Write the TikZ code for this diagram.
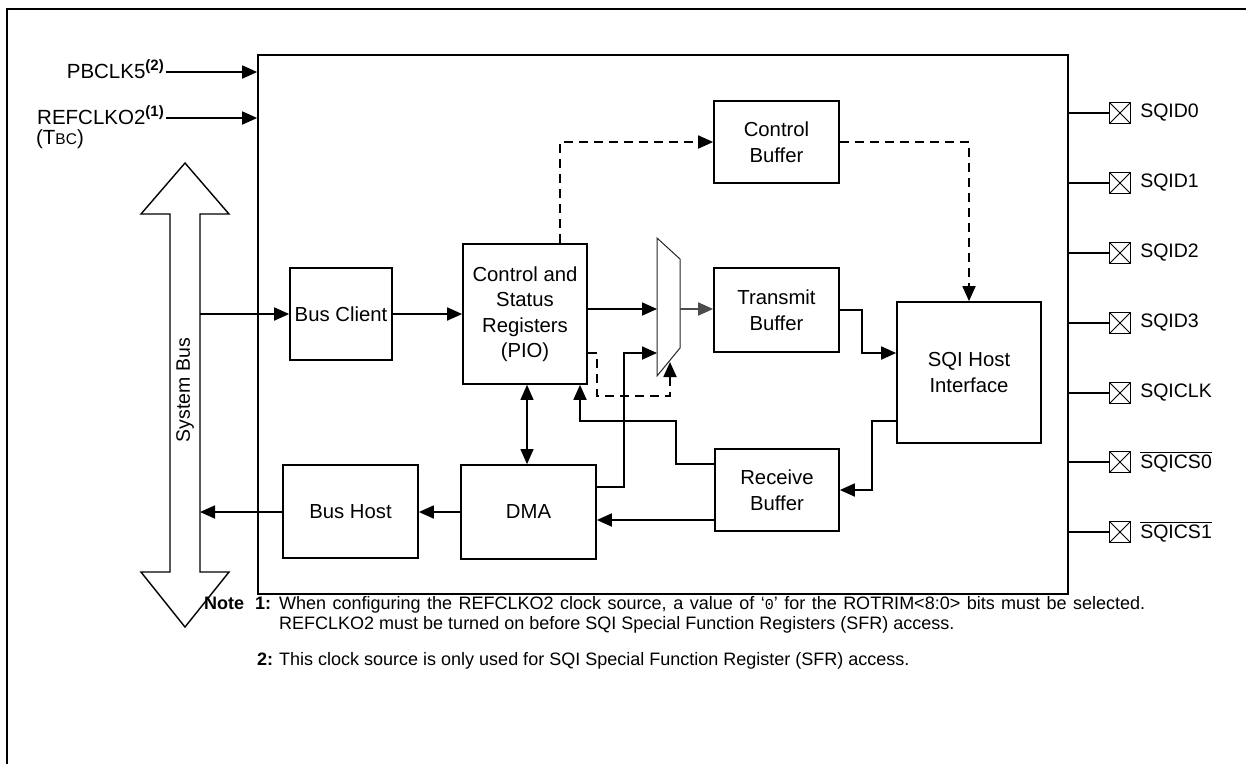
\documentclass[tikz,border=0pt]{standalone}
\usepackage{fontspec}
\setmainfont{Liberation Sans}
\newfontfamily\monof{Liberation Mono}
\usetikzlibrary{arrows.meta,calc}
\newcommand{\myovl}[1]{{\setbox0\hbox{#1}\rlap{\rule[\dimexpr\ht0+2pt\relax]{\wd0}{1.2pt}}\box0}}
\newcommand{\mysup}[1]{\raisebox{7.5pt}{\fontsize{15}{17}\selectfont\bfseries #1}}
\begin{document}
\begin{tikzpicture}[x=1pt,y=-1pt,
  blk/.style={draw,line width=1.7pt,inner sep=0pt,align=center,font=\fontsize{20.3}{25.5}\selectfont},
  arr/.style={line width=1.8pt,-{Triangle[length=15pt,width=13pt]}},
  darr/.style={arr,dash pattern=on 9pt off 6pt},
  dbl/.style={line width=1.1pt,{Triangle[length=15pt,width=13pt]}-{Triangle[length=15pt,width=13pt]}},
  pinbox/.style={draw,line width=1.2pt,minimum size=21pt,inner sep=0pt,
    path picture={\draw[line width=0.8pt] (path picture bounding box.south west) -- (path picture bounding box.north east)
      (path picture bounding box.north west) -- (path picture bounding box.south east);}},
  lbl/.style={font=\fontsize{19.5}{23}\selectfont,inner sep=0pt},
  inlbl/.style={font=\fontsize{20.5}{24}\selectfont,inner sep=0pt},
  pinlbl/.style={lbl,anchor=west},
  notef/.style={font=\fontsize{18}{20.5}\selectfont,inner sep=0pt}]
\useasboundingbox (0,0) rectangle (1246,764);
% outer frame
\draw[line width=2.4pt] (7,764) -- (7,9) -- (1246,9);
% main block
\node[blk,minimum width=810pt,minimum height=539pt] (main) at (663,324.5) {};
% inputs
\coordinate (pb) at (166,72);
\coordinate (rc) at (166,118);
\draw[arr] (pb) -- (pb -| main.west);
\draw[arr] (rc) -- (rc -| main.west);
\node[inlbl,anchor=base east] (pbl) at (164,78) {PBCLK5\mysup{(2)}};
\node[inlbl,anchor=base east] (rcl) at (164,124) {REFCLKO2\mysup{(1)}};
\node[inlbl,anchor=base] (tbc) at (60,144) {(T{\fontsize{15.5}{17}\selectfont BC})};
% system bus
\draw[line width=1.4pt,fill=white] (185,163) -- (229,214) -- (200,214) -- (200,572) -- (229,572) -- (185,627)
  -- (141,572) -- (170,572) -- (170,214) -- (141,214) -- cycle;
\node[lbl,rotate=90] (sb) at (185,390) {System Bus};
\coordinate (busR) at (200,0);
% blocks
\node[blk,minimum width=102pt,minimum height=92pt] (bc) at (341,314) {Bus Client};
\node[blk,minimum width=124pt,minimum height=140pt] (csr) at (525,314) {Control and\\Status\\Registers\\(PIO)};
\node[blk,minimum width=125pt,minimum height=82pt] (cb) at (776.5,142) {Control\\Buffer};
\node[blk,minimum width=125pt,minimum height=84pt] (tb) at (776.5,310) {Transmit\\Buffer};
\node[blk,minimum width=144pt,minimum height=141pt] (sqi) at (969,372.5) {SQI Host\\Interface};
\node[blk,minimum width=124pt,minimum height=82pt] (rb) at (777,490) {Receive\\Buffer};
\node[blk,minimum width=135pt,minimum height=94pt] (dma) at (528.5,512) {DMA};
\node[blk,minimum width=135pt,minimum height=93pt] (bh) at (350.5,511.5) {Bus Host};
% mux
\draw[line width=1pt,draw=black!85,fill=white] (657,238) -- (680,259) -- (680,348) -- (657,376) -- cycle;
\coordinate (muxA) at (657,309);
\coordinate (muxB) at (657,353);
\coordinate (muxO) at (680,309);
\coordinate (muxS) at (670,362);
% connectors
\draw[arr] (bc.west -| busR) -- (bc.west);
\draw[arr] (bc.east) -- (csr.west |- bc.east);
\draw[arr] (csr.east |- muxA) -- (muxA);
\draw[arr,draw=black!70] (muxO) -- (tb.west |- muxO);
\coordinate (dm1) at (624,487);
\draw[arr] (dm1 -| dma.east) -- (dm1) |- (muxB);
\coordinate (ds1) at (597,396);
\draw[darr] (csr.east |- muxB) -| (ds1) -| (muxS);
\coordinate (dc1) at (560,142);
\draw[darr] (csr.north -| dc1) -- (dc1) -- (cb.west);
\draw[darr] (cb.east) -| (sqi.north);
\draw[arr] (tb.east) -- ++(22,0) |- (sqi.west |- 0,353);
\coordinate (sr1) at (872,421);
\draw[arr] (sqi.west |- sr1) -- (sr1) |- (rb.east);
\coordinate (rd1) at (0,520);
\draw[arr] (rb.west |- rd1) -- (dma.east |- rd1);
\coordinate (rc1) at (676,421);
\coordinate (rc2) at (580,421);
\draw[arr] (rb.west |- 0,464) -| (rc1) -- (rc2) -- (csr.south -| rc2);
\coordinate (cd1) at (527,0);
\draw[dbl] (csr.south -| cd1) -- (dma.north -| cd1);
\draw[arr] (dma.west) -- (bh.east |- dma.west);
\draw[arr] (bh.west |- dma.west) -- (dma.west -| busR);
% pins
\foreach \n/\y/\t in {0/113/SQID0,1/183/SQID1,2/253/SQID2,3/323/SQID3,4/393/SQICLK,
    5/462/\myovl{SQICS0},6/532/\myovl{SQICS1}}{
  \node[pinbox] (p\n) at (1120,\y) {};
  \draw[line width=1.4pt] (main.east |- p\n.west) -- (p\n.west);
  \node[pinlbl] (pl\n) at ($(p\n.east)+(9,0)$) {\t};
}
% notes
\node[notef,font=\fontsize{18}{20.5}\selectfont\bfseries,anchor=base west] (nt) at (204,609) {Note};
\node[notef,font=\fontsize{18}{20.5}\selectfont\bfseries,anchor=base west] (n1) at (255,609) {1:};
\node[notef,anchor=north west,text width=866pt,align=justify] (n1t) at (279,596)
  {When configuring the REFCLKO2 clock source, a value of ‘{\monof\fontsize{15}{17}\selectfont 0}’ for the ROTRIM<8:0> bits must be selected. REFCLKO2 must be turned on before SQI Special Function Registers (SFR) access.};
\node[notef,font=\fontsize{18}{20.5}\selectfont\bfseries,anchor=base west] (n2) at (257,665) {2:};
\node[notef,anchor=base west] (n2t) at (279,665) {This clock source is only used for SQI Special Function Register (SFR) access.};
\end{tikzpicture}
\end{document}
